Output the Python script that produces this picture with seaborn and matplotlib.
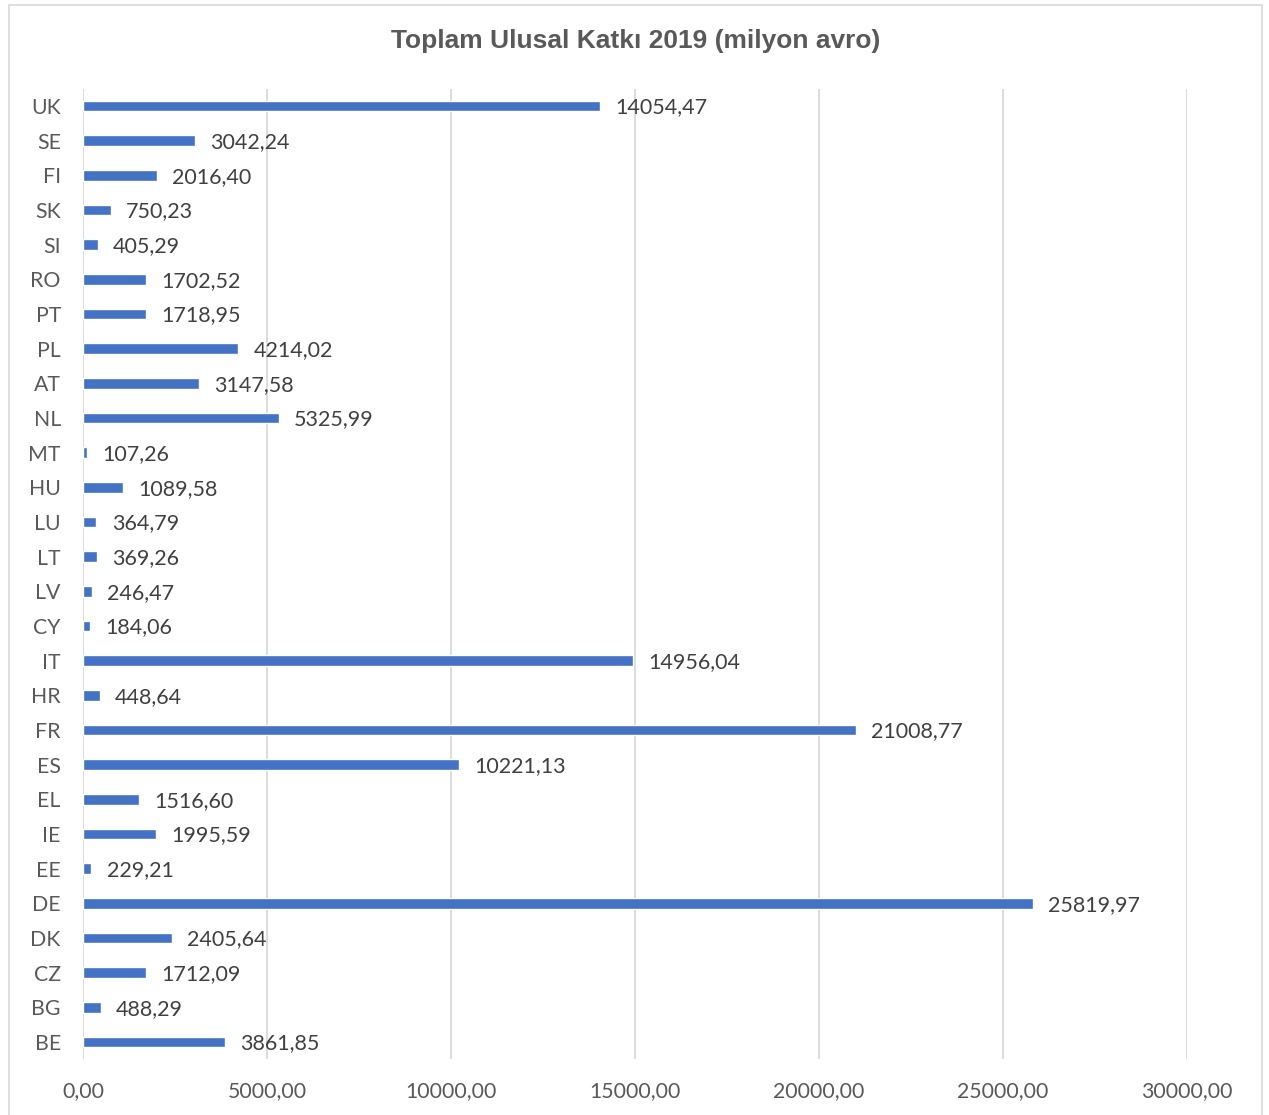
import matplotlib
matplotlib.use("Agg")
import matplotlib.pyplot as plt
import seaborn as sns
import pandas as pd
from matplotlib.patches import Rectangle

countries = ["UK", "SE", "FI", "SK", "SI", "RO", "PT", "PL", "AT", "NL", "MT", "HU", "LU", "LT",
             "LV", "CY", "IT", "HR", "FR", "ES", "EL", "IE", "EE", "DE", "DK", "CZ", "BG", "BE"]
values = [14054.47, 3042.24, 2016.40, 750.23, 405.29, 1702.52, 1718.95, 4214.02, 3147.58, 5325.99,
          107.26, 1089.58, 364.79, 369.26, 246.47, 184.06, 14956.04, 448.64, 21008.77, 10221.13,
          1516.60, 1995.59, 229.21, 25819.97, 2405.64, 1712.09, 488.29, 3861.85]
x_ticks = [0, 5000, 10000, 15000, 20000, 25000, 30000]
title = "Toplam Ulusal Katkı 2019 (milyon avro)"

df = pd.DataFrame({"country": countries, "value": values})

sns.set_theme(style="white")
plt.rcParams['font.family'] = ['Lato', 'DejaVu Sans']

fig = plt.figure(figsize=(12.69, 11.15), dpi=100)
ax = fig.add_axes([83/1269, 1 - 1059.3/1115, (1187-83)/1269, (1059.3-88.7)/1115])

sns.barplot(data=df, y="country", x="value", orient="h", color="#4472C4",
            saturation=1, width=0.3, ax=ax, order=countries)

ax.set_xlim(0, 30000)
ax.set_xticks(x_ticks)
ax.set_xticklabels([f"{t:.2f}".replace(".", ",") for t in x_ticks], fontsize=15.3, color="#595959")
ax.tick_params(axis="x", length=0, pad=16)
ax.tick_params(axis="y", length=0, pad=16, labelsize=15.3, labelcolor="#595959")
ax.set_xlabel("")
ax.set_ylabel("")
for s in ax.spines.values():
    s.set_visible(False)
ax.grid(axis="x", color="#D9D9D9", linewidth=1.3)
ax.set_axisbelow(True)

for i, v in enumerate(values):
    ax.annotate(f"{v:.2f}".replace(".", ","), xy=(v, i), xytext=(11, -1), textcoords="offset points",
                ha="left", va="center", fontsize=15.5, color="#404040")

fig.text(636/1269, 1 - 41/1115, title, ha="center", va="center", fontsize=19,
         fontweight="bold", color="#595959", family=["Liberation Sans", "DejaVu Sans"])

fig.patches.append(Rectangle((9/1269, -0.01), (1262-9)/1269, (1115-5)/1115 + 0.01,
                             transform=fig.transFigure, fill=False, edgecolor="#D9D9D9", linewidth=1.2))

fig.savefig("out.png", dpi=100)
